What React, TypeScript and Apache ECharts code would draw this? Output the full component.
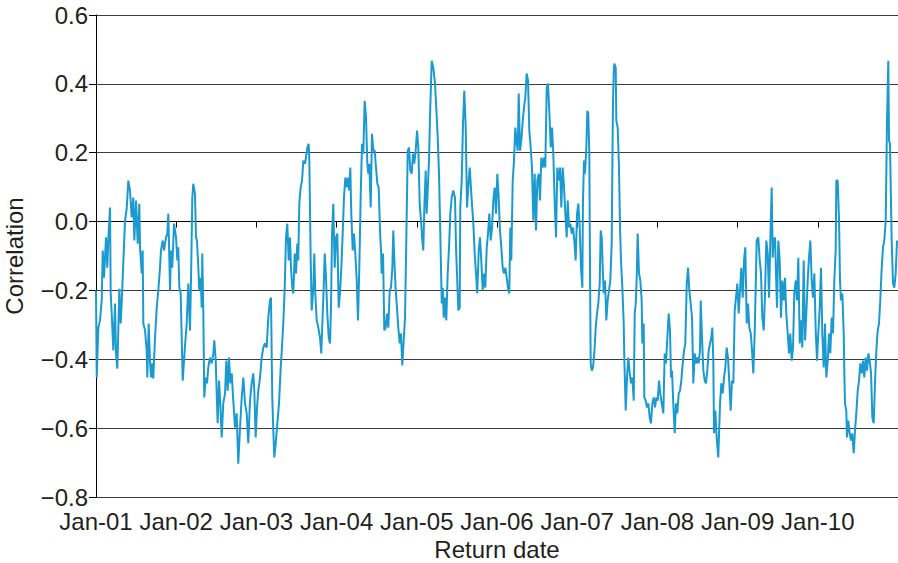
import React, { useEffect, useRef } from "react";
import * as echarts from "echarts";

const START_YEAR = 2001;
const END_YEAR = 2011;

// Return dates, as years elapsed since Jan-01 (2001)
const dateOffsets: number[] = [
  0.000, 0.009, 0.029, 0.050, 0.071, 0.084, 0.100, 0.112, 0.125, 0.141, 0.153, 0.175, 0.183, 0.196, 0.216, 0.237, 0.249, 0.266, 0.291, 0.308,
  0.320, 0.340, 0.362, 0.383, 0.403, 0.424, 0.445, 0.465, 0.478, 0.499, 0.520, 0.540, 0.549, 0.570, 0.582, 0.590, 0.611, 0.632, 0.640, 0.657,
  0.673, 0.686, 0.702, 0.714, 0.736, 0.757, 0.777, 0.798, 0.810, 0.832, 0.848, 0.873, 0.889, 0.902, 0.923, 0.935, 0.951, 0.973, 0.998, 1.014,
  1.026, 1.039, 1.056, 1.081, 1.110, 1.131, 1.151, 1.172, 1.185, 1.201, 1.213, 1.234, 1.247, 1.259, 1.276, 1.288, 1.306, 1.318, 1.325, 1.338,
  1.350, 1.368, 1.384, 1.400, 1.421, 1.443, 1.463, 1.475, 1.493, 1.505, 1.517, 1.534, 1.550, 1.567, 1.587, 1.609, 1.625, 1.642, 1.658, 1.675,
  1.692, 1.712, 1.733, 1.754, 1.774, 1.796, 1.817, 1.837, 1.858, 1.879, 1.899, 1.920, 1.941, 1.961, 1.974, 1.991, 2.008, 2.024, 2.045, 2.066,
  2.086, 2.107, 2.128, 2.148, 2.170, 2.182, 2.191, 2.198, 2.211, 2.223, 2.241, 2.261, 2.282, 2.303, 2.315, 2.335, 2.353, 2.369, 2.385, 2.403,
  2.419, 2.431, 2.448, 2.460, 2.478, 2.494, 2.510, 2.522, 2.535, 2.552, 2.569, 2.585, 2.606, 2.618, 2.635, 2.652, 2.660, 2.677, 2.690, 2.710,
  2.722, 2.734, 2.752, 2.772, 2.793, 2.809, 2.827, 2.839, 2.852, 2.868, 2.884, 2.902, 2.918, 2.930, 2.943, 2.959, 2.976, 2.993, 3.009, 3.026,
  3.042, 3.059, 3.076, 3.092, 3.109, 3.126, 3.142, 3.158, 3.171, 3.183, 3.201, 3.217, 3.233, 3.251, 3.267, 3.283, 3.301, 3.317, 3.333, 3.350,
  3.367, 3.383, 3.395, 3.408, 3.425, 3.441, 3.458, 3.475, 3.491, 3.508, 3.525, 3.541, 3.554, 3.562, 3.579, 3.595, 3.612, 3.628, 3.645, 3.662,
  3.678, 3.695, 3.707, 3.720, 3.737, 3.753, 3.769, 3.787, 3.803, 3.819, 3.837, 3.853, 3.869, 3.887, 3.903, 3.919, 3.936, 3.953, 3.969, 3.986,
  4.003, 4.019, 4.036, 4.052, 4.069, 4.081, 4.094, 4.111, 4.123, 4.136, 4.152, 4.168, 4.186, 4.206, 4.227, 4.243, 4.261, 4.277, 4.293, 4.311,
  4.323, 4.336, 4.352, 4.368, 4.385, 4.402, 4.418, 4.435, 4.455, 4.476, 4.489, 4.501, 4.518, 4.535, 4.542, 4.560, 4.576, 4.592, 4.610, 4.626,
  4.642, 4.660, 4.685, 4.705, 4.722, 4.738, 4.754, 4.772, 4.788, 4.804, 4.822, 4.838, 4.854, 4.872, 4.888, 4.904, 4.922, 4.938, 4.954, 4.971,
  4.988, 5.004, 5.021, 5.037, 5.054, 5.071, 5.087, 5.104, 5.121, 5.137, 5.153, 5.166, 5.178, 5.196, 5.212, 5.228, 5.246, 5.258, 5.271, 5.287,
  5.303, 5.321, 5.337, 5.353, 5.370, 5.387, 5.403, 5.420, 5.436, 5.453, 5.470, 5.486, 5.503, 5.520, 5.536, 5.553, 5.570, 5.586, 5.602, 5.620,
  5.636, 5.652, 5.670, 5.686, 5.702, 5.720, 5.736, 5.752, 5.770, 5.786, 5.802, 5.819, 5.836, 5.852, 5.869, 5.882, 5.898, 5.914, 5.932, 5.948,
  5.964, 5.981, 5.998, 6.014, 6.031, 6.047, 6.064, 6.072, 6.085, 6.097, 6.114, 6.126, 6.138, 6.151, 6.160, 6.168, 6.181, 6.197, 6.213, 6.231,
  6.247, 6.263, 6.281, 6.293, 6.306, 6.318, 6.331, 6.347, 6.363, 6.380, 6.397, 6.413, 6.430, 6.438, 6.446, 6.455, 6.463, 6.480, 6.488, 6.505,
  6.521, 6.534, 6.546, 6.563, 6.580, 6.588, 6.605, 6.621, 6.637, 6.655, 6.671, 6.687, 6.705, 6.717, 6.730, 6.742, 6.754, 6.771, 6.787, 6.804,
  6.812, 6.829, 6.837, 6.854, 6.870, 6.887, 6.904, 6.920, 6.937, 6.954, 6.970, 6.987, 7.004, 7.020, 7.036, 7.054, 7.074, 7.091, 7.107, 7.124,
  7.141, 7.157, 7.170, 7.182, 7.198, 7.216, 7.232, 7.248, 7.266, 7.282, 7.298, 7.316, 7.332, 7.348, 7.366, 7.382, 7.398, 7.415, 7.432, 7.448,
  7.465, 7.481, 7.498, 7.515, 7.531, 7.540, 7.556, 7.573, 7.590, 7.606, 7.622, 7.640, 7.656, 7.672, 7.685, 7.697, 7.706, 7.722, 7.739, 7.759,
  7.781, 7.797, 7.814, 7.831, 7.847, 7.864, 7.880, 7.897, 7.914, 7.930, 7.947, 7.964, 7.980, 7.996, 8.014, 8.030, 8.046, 8.064, 8.080, 8.096,
  8.114, 8.130, 8.146, 8.164, 8.180, 8.196, 8.214, 8.238, 8.258, 8.276, 8.292, 8.308, 8.326, 8.342, 8.358, 8.376, 8.392, 8.408, 8.425, 8.438,
  8.450, 8.467, 8.479, 8.491, 8.508, 8.525, 8.541, 8.558, 8.575, 8.591, 8.607, 8.625, 8.641, 8.657, 8.675, 8.691, 8.707, 8.725, 8.741, 8.757,
  8.775, 8.791, 8.807, 8.824, 8.841, 8.857, 8.874, 8.890, 8.907, 8.924, 8.940, 8.957, 8.974, 8.990, 9.006, 9.024, 9.040, 9.056, 9.074, 9.090,
  9.106, 9.124, 9.140, 9.156, 9.173, 9.190, 9.206, 9.223, 9.231, 9.248, 9.265, 9.277, 9.289, 9.306, 9.323, 9.331, 9.339, 9.355, 9.364, 9.380,
  9.398, 9.414, 9.430, 9.448, 9.464, 9.480, 9.498, 9.514, 9.530, 9.548, 9.564, 9.580, 9.597, 9.614, 9.630, 9.647, 9.664, 9.680, 9.697, 9.714,
  9.730, 9.747, 9.763, 9.779, 9.797, 9.813, 9.829, 9.847, 9.863, 9.879, 9.888, 9.900, 9.921, 9.938, 9.954, 9.971, 9.988,
];

// Rolling correlation at each return date
const correlation: number[] = [
  -0.200, -0.453, -0.308, -0.287, -0.229, -0.084, -0.163, -0.105, -0.046, -0.134, -0.055, 0.041, -0.209, -0.267, -0.374, -0.238, -0.383, -0.427, -0.195, -0.296,
  -0.238, -0.122, 0.003, 0.038, 0.119, 0.090, 0.012, 0.070, -0.055, 0.061, -0.064, 0.052, -0.075, -0.151, -0.084, -0.296, -0.316, -0.374, -0.453, -0.296,
  -0.404, -0.453, -0.412, -0.456, -0.337, -0.250, -0.200, -0.134, -0.084, -0.055, -0.084, -0.046, -0.035, 0.023, -0.200, -0.084, -0.134, -0.006, -0.046, -0.113,
  -0.075, -0.192, -0.209, -0.462, -0.360, -0.296, -0.180, -0.316, -0.163, 0.070, 0.110, 0.081, -0.046, -0.055, -0.134, -0.200, -0.163, -0.250, -0.093, -0.258,
  -0.511, -0.453, -0.470, -0.424, -0.395, -0.412, -0.383, -0.345, -0.404, -0.499, -0.586, -0.462, -0.528, -0.627, -0.528, -0.499, -0.404, -0.491, -0.395, -0.470,
  -0.441, -0.520, -0.598, -0.557, -0.703, -0.598, -0.511, -0.453, -0.528, -0.557, -0.644, -0.520, -0.470, -0.441, -0.491, -0.627, -0.540, -0.491, -0.453, -0.395,
  -0.366, -0.354, -0.366, -0.279, -0.229, -0.221, -0.395, -0.511, -0.607, -0.685, -0.644, -0.586, -0.528, -0.424, -0.380, -0.296, -0.192, -0.046, -0.006, -0.113,
  -0.046, -0.134, -0.192, -0.209, -0.093, -0.151, -0.064, -0.113, 0.052, 0.099, 0.119, 0.177, 0.168, 0.186, 0.215, 0.226, 0.177, -0.113, -0.258, -0.192,
  -0.093, -0.209, -0.287, -0.308, -0.337, -0.383, -0.267, -0.192, -0.093, -0.163, -0.267, -0.337, -0.354, -0.250, -0.035, 0.052, -0.134, -0.046, -0.035, -0.250,
  -0.209, -0.134, -0.035, 0.070, 0.128, 0.099, 0.128, 0.090, 0.157, 0.023, -0.084, -0.035, -0.093, -0.171, -0.287, -0.134, 0.081, 0.226, 0.197, 0.351,
  0.302, 0.168, 0.139, 0.168, 0.041, 0.255, 0.206, 0.206, 0.157, 0.110, 0.099, -0.026, -0.084, -0.151, -0.093, -0.316, -0.308, -0.267, -0.308, -0.200,
  -0.192, -0.134, -0.026, -0.113, -0.200, -0.250, -0.308, -0.354, -0.325, -0.418, -0.345, -0.279, -0.055, 0.206, 0.215, 0.148, 0.139, 0.197, 0.168, 0.206,
  0.264, 0.215, 0.052, 0.003, -0.055, -0.084, 0.041, 0.148, 0.023, 0.090, 0.177, 0.331, 0.467, 0.447, 0.401, 0.331, 0.244, 0.139, -0.035, -0.238,
  -0.192, -0.279, -0.221, -0.287, -0.151, -0.075, 0.023, 0.070, 0.090, 0.070, -0.075, -0.151, -0.258, -0.250, 0.041, 0.119, 0.284, 0.380, 0.273, 0.041,
  0.099, 0.157, 0.061, -0.006, -0.093, -0.151, -0.209, -0.084, -0.046, -0.113, -0.200, -0.151, -0.192, -0.075, -0.035, 0.023, -0.055, -0.017, 0.061, 0.099,
  0.023, 0.139, 0.070, -0.026, -0.075, -0.134, -0.151, -0.134, -0.163, -0.192, -0.209, -0.017, -0.113, 0.119, 0.177, 0.273, 0.226, 0.206, 0.372, 0.206,
  0.235, 0.293, 0.331, 0.360, 0.430, 0.409, 0.264, 0.215, 0.157, 0.003, 0.139, -0.026, 0.119, 0.139, 0.061, 0.186, 0.157, 0.186, 0.157, 0.389,
  0.401, 0.322, 0.215, 0.273, 0.197, 0.052, -0.046, 0.157, 0.119, 0.157, 0.041, 0.157, 0.099, 0.023, -0.046, 0.061, -0.017, -0.006, -0.035, -0.017,
  -0.055, -0.113, 0.023, 0.052, -0.017, -0.134, -0.192, 0.061, 0.177, 0.139, 0.215, 0.322, 0.314, 0.197, -0.151, -0.412, -0.433, -0.424, -0.383, -0.308,
  -0.267, -0.238, -0.180, -0.026, -0.046, -0.134, -0.209, -0.171, -0.287, -0.229, -0.200, -0.171, -0.064, 0.139, 0.343, 0.430, 0.459, 0.447, 0.293, 0.273,
  0.157, -0.017, -0.113, -0.192, -0.296, -0.404, -0.549, -0.453, -0.395, -0.441, -0.470, -0.453, -0.520, -0.267, -0.238, -0.163, -0.035, -0.151, -0.171, -0.229,
  -0.354, -0.296, -0.511, -0.520, -0.540, -0.528, -0.569, -0.586, -0.528, -0.511, -0.540, -0.511, -0.520, -0.462, -0.499, -0.528, -0.557, -0.383, -0.412, -0.337,
  -0.267, -0.316, -0.453, -0.433, -0.528, -0.615, -0.528, -0.557, -0.499, -0.491, -0.462, -0.412, -0.374, -0.354, -0.180, -0.134, -0.200, -0.238, -0.279, -0.470,
  -0.383, -0.412, -0.395, -0.412, -0.374, -0.229, -0.337, -0.433, -0.462, -0.470, -0.433, -0.374, -0.354, -0.337, -0.308, -0.404, -0.615, -0.549, -0.627, -0.685,
  -0.528, -0.470, -0.499, -0.453, -0.424, -0.366, -0.395, -0.470, -0.549, -0.462, -0.470, -0.258, -0.221, -0.180, -0.267, -0.200, -0.134, -0.221, -0.113, -0.075,
  -0.296, -0.238, -0.308, -0.325, -0.374, -0.441, -0.316, -0.055, -0.046, -0.113, -0.151, -0.279, -0.316, -0.209, -0.055, -0.093, -0.221, -0.055, 0.099, -0.105,
  -0.055, -0.046, -0.151, -0.250, -0.055, -0.113, -0.279, -0.171, -0.229, -0.163, -0.267, -0.325, -0.383, -0.325, -0.404, -0.366, -0.209, -0.171, -0.229, -0.105,
  -0.354, -0.287, -0.366, -0.113, -0.345, -0.267, -0.171, -0.105, -0.055, -0.171, -0.221, -0.151, -0.316, -0.404, -0.325, -0.250, -0.134, -0.325, -0.424, -0.296,
  -0.453, -0.404, -0.325, -0.383, -0.279, -0.325, -0.171, -0.084, 0.119, 0.119, 0.003, -0.171, -0.229, -0.209, -0.325, -0.441, -0.528, -0.549, -0.627, -0.578,
  -0.615, -0.636, -0.615, -0.673, -0.607, -0.557, -0.491, -0.462, -0.412, -0.441, -0.404, -0.453, -0.395, -0.433, -0.383, -0.404, -0.441, -0.569, -0.586, -0.462,
  -0.374, -0.316, -0.296, -0.229, -0.134, -0.075, -0.055, 0.003, 0.293, 0.467, 0.235, 0.226, -0.055, -0.180, -0.192, -0.151, -0.055,
];

// Axis ticks
const yTicks: number[] = [-0.8, -0.6, -0.4, -0.2, 0.0, 0.2, 0.4, 0.6];
const yearLabels: string[] = ["Jan-01", "Jan-02", "Jan-03", "Jan-04", "Jan-05", "Jan-06", "Jan-07", "Jan-08", "Jan-09", "Jan-10"];

const FONT = "'Liberation Sans', Arial, Helvetica, sans-serif";
const TEXT_COLOR = "#231f20";
const LINE_COLOR = "#1b9ad0";
const GRID_COLOR = "#3c3c3c";

export default function App() {
  const ref = useRef<HTMLDivElement>(null);

  useEffect(() => {
    if (!ref.current) return;
    const chart = echarts.init(ref.current, undefined, { renderer: "svg" });
    const points = dateOffsets.map((d, i) => [START_YEAR + d, correlation[i]]);
    const yMin = yTicks[0];
    const yMax = yTicks[yTicks.length - 1];

    chart.setOption({
      animation: false,
      backgroundColor: "#ffffff",
      textStyle: { fontFamily: FONT },
      grid: { left: 96, right: 0, top: 15, height: 482, containLabel: false, outerBoundsMode: "none" },
      xAxis: [
        {
          type: "value",
          min: START_YEAR,
          max: END_YEAR,
          interval: 1,
          position: "bottom",
          axisLine: { show: false, onZero: false },
          axisTick: { show: false },
          splitLine: { show: false },
          axisLabel: {
            show: true,
            margin: 12,
            fontSize: 24,
            color: TEXT_COLOR,
            fontFamily: FONT,
            formatter: (v: number) => {
              const idx = Math.round(v) - START_YEAR;
              return idx >= 0 && idx < yearLabels.length ? yearLabels[idx] : "";
            },
          },
          name: "Return date",
          nameLocation: "middle",
          nameGap: 40,
          nameTextStyle: { fontSize: 24, color: TEXT_COLOR, fontFamily: FONT },
        },
        {
          type: "value",
          min: START_YEAR,
          max: END_YEAR,
          interval: 1,
          position: "bottom",
          axisLine: { show: true, onZero: true, lineStyle: { color: "#000000", width: 1 } },
          axisTick: { show: true, length: 6, lineStyle: { color: "#000000", width: 1 } },
          axisLabel: { show: false },
          splitLine: { show: false },
        },
      ],
      yAxis: {
        type: "value",
        min: yMin,
        max: yMax,
        interval: 0.2,
        axisLine: { show: true, onZero: false, lineStyle: { color: "#000000", width: 1 } },
        axisTick: { show: true, length: 7, lineStyle: { color: "#000000", width: 1 } },
        splitLine: { show: true, lineStyle: { color: GRID_COLOR, width: 1 } },
        axisLabel: {
          margin: 8,
          fontSize: 24,
          color: TEXT_COLOR,
          fontFamily: FONT,
          formatter: (v: number) => v.toFixed(1).replace("-", "\u2212"),
        },
        name: "Correlation",
        nameLocation: "middle",
        nameGap: 70,
        nameTextStyle: { fontSize: 24, color: TEXT_COLOR, fontFamily: FONT },
      },
      series: [
        {
          type: "line",
          xAxisIndex: 0,
          data: points,
          showSymbol: false,
          symbol: "none",
          lineStyle: { color: LINE_COLOR, width: 2 },
          itemStyle: { color: LINE_COLOR },
          clip: true,
          z: 5,
        },
      ],
    });

    return () => chart.dispose();
  }, []);

  return (
    <div
      ref={ref}
      style={{ position: "fixed", left: 0, top: 0, width: 898, height: 563, background: "#fff" }}
    />
  );
}
